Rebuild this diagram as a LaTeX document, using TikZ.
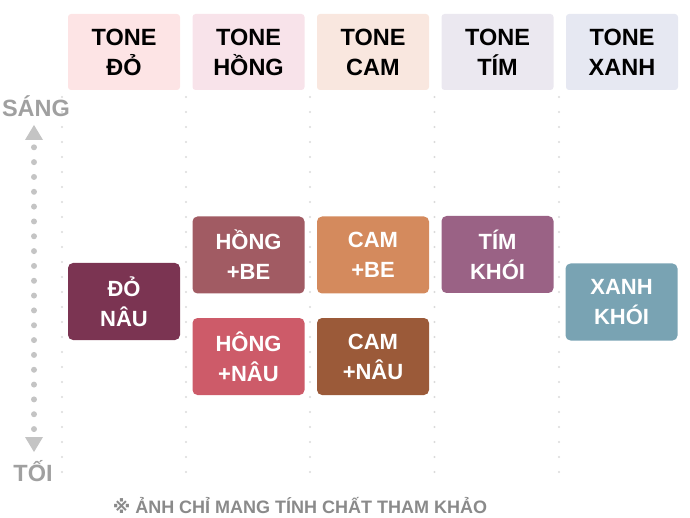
\documentclass[tikz,border=0pt]{standalone}
\usepackage{fontspec}
\setmainfont{Liberation Sans}
\newfontfamily\symfont{DejaVu Sans}
\begin{document}
\begin{tikzpicture}[x=1pt,y=-1pt,
  hdr/.style={rounded corners=3pt, minimum width=112pt, minimum height=76pt, inner sep=0pt,
    align=center, font=\fontsize{23.5}{30}\selectfont\bfseries, text=black},
  cbox/.style={rounded corners=5pt, minimum width=112pt, minimum height=77pt, inner sep=0pt,
    align=center, font=\fontsize{22}{30}\selectfont\bfseries, text=white},
  gridline/.style={draw=gridgray, line width=2.2pt, line cap=round, dash pattern=on 0pt off 15pt},
  axisdot/.style={circle, fill=axisgray, inner sep=0pt, minimum size=6pt},
  axislabel/.style={text=labelgray, font=\fontsize{23.5}{26}\selectfont\bfseries, inner sep=0pt}]
\definecolor{gridgray}{HTML}{DADADA}
\definecolor{axisgray}{HTML}{C4C4C4}
\definecolor{labelgray}{HTML}{A0A0A0}
\definecolor{notegray}{HTML}{8A8A8A}
\definecolor{hdrdo}{HTML}{FDE4E5}
\definecolor{hdrhong}{HTML}{F8E3EA}
\definecolor{hdrcam}{HTML}{F9E7DF}
\definecolor{hdrtim}{HTML}{EBE8F0}
\definecolor{hdrxanh}{HTML}{E6E8F2}
\definecolor{donau}{HTML}{7B3452}
\definecolor{hongbe}{HTML}{A15B63}
\definecolor{cambe}{HTML}{D48A5D}
\definecolor{hongnau}{HTML}{CD5B69}
\definecolor{camnau}{HTML}{9B5A39}
\definecolor{timkhoi}{HTML}{9A6285}
\definecolor{xanhkhoi}{HTML}{79A3B3}
\useasboundingbox (0,0) rectangle (690,518);
% grid dotted columns
\foreach \gx in {62,186,310,434.5,559} {
  \draw[gridline] (\gx,97) -- (\gx,485);
}
% headers
\node[hdr, fill=hdrdo]   (h1) at (124,52)   {TONE\\ĐỎ};
\node[hdr, fill=hdrhong] (h2) at (248.5,52) {TONE\\HỒNG};
\node[hdr, fill=hdrcam]  (h3) at (373,52)   {TONE\\CAM};
\node[hdr, fill=hdrtim]  (h4) at (497.5,52) {TONE\\TÍM};
\node[hdr, fill=hdrxanh] (h5) at (622,52)   {TONE\\XANH};
% colour boxes
\node[cbox, fill=donau]    (b1) at (124,301.5)   {ĐỎ\\NÂU};
\node[cbox, fill=hongbe]   (b2) at (248.5,255)   {HỒNG\\+BE};
\node[cbox, fill=cambe]    (b3) at (373,255)     {CAM\\+BE};
\node[cbox, fill=hongnau]  (b4) at (248.5,356.5) {HÔNG\\+NÂU};
\node[cbox, fill=camnau]   (b5) at (373,356.5)   {CAM\\+NÂU};
\node[cbox, fill=timkhoi]  (b6) at (497.5,254.5) {TÍM\\KHÓI};
\node[cbox, fill=xanhkhoi] (b7) at (621.5,302)   {XANH\\KHÓI};
% axis
\node[axislabel] (sang) at (36,106) {SÁNG};
\node[axislabel] (toi) at (33,471) {TỐI};
\coordinate (up) at (34,125);
\coordinate (down) at (34,452);
\fill[axisgray] (up) -- ++(-9,15) -- ++(18,0) -- cycle;
\fill[axisgray] (down) -- ++(-9,-15) -- ++(18,0) -- cycle;
\foreach \i in {0,...,19} {
  \node[axisdot] (d\i) at (34,147.3+\i*14.83) {};
}
% note
\node[text=notegray, font=\fontsize{18}{22}\selectfont\bfseries, inner sep=0pt] (note) at (300,506)
  {{\symfont ※} ẢNH CHỈ MANG TÍNH CHẤT THAM KHẢO};
\end{tikzpicture}
\end{document}
